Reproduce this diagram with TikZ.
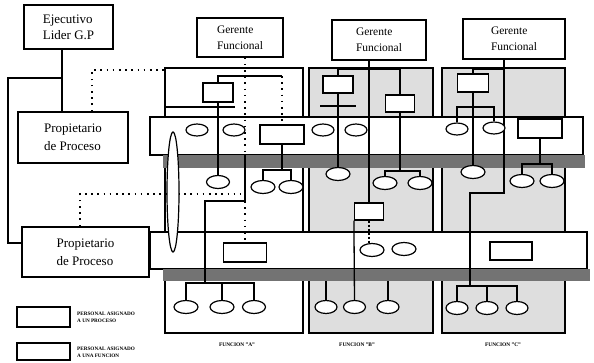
\documentclass[tikz,border=0pt]{standalone}
\usepackage{fontspec}
\setmainfont{Liberation Serif}
\usetikzlibrary{shapes.geometric,calc}
\pgfdeclarelayer{bg}
\pgfdeclarelayer{mid}
\pgfsetlayers{bg,mid,main}
\begin{document}
\begin{tikzpicture}[x=1pt,y=-1pt,
  bigbox/.style={draw,line width=1.4pt,fill=white,inner sep=0pt,align=left},
  colbox/.style={draw,line width=1.4pt,inner sep=0pt},
  bandbox/.style={draw,line width=1.4pt,fill=white,inner sep=0pt},
  shadowbox/.style={fill=black!55,inner sep=0pt},
  pers/.style={draw,ellipse,line width=1.2pt,fill=white,inner sep=0pt,minimum width=22pt,minimum height=12pt},
  prect/.style={draw,rectangle,line width=1.2pt,fill=white,inner sep=0pt},
  conn/.style={line width=1.3pt},
  dotc/.style={line width=1.5pt,dash pattern=on 1.6pt off 4.6pt},
  flabel/.style={font=\fontsize{5.4}{6}\selectfont\bfseries,inner sep=0pt},
  legtext/.style={font=\fontsize{5.2}{7}\selectfont\bfseries,inner sep=0pt,align=left,anchor=west}]
\useasboundingbox (0,0) rectangle (594,363);

% ---------- background: function columns, process bands, shadows
\begin{pgfonlayer}{bg}
\node[colbox,fill=white,minimum width=138pt,minimum height=265pt] (colA) at (234,200.5) {};
\node[colbox,fill=black!13,minimum width=124pt,minimum height=265pt] (colB) at (371,200.5) {};
\node[colbox,fill=black!13,minimum width=123pt,minimum height=265pt] (colC) at (503.5,200.5) {};
\node[bandbox,minimum width=433pt,minimum height=38pt] (band1) at (366.5,136) {};
\node[bandbox,minimum width=437pt,minimum height=37pt] (band2) at (368.5,250.5) {};
\node[shadowbox,minimum width=422pt,minimum height=13pt] (sh1) at (374,161.5) {};
\node[shadowbox,minimum width=427pt,minimum height=12pt] (sh2) at (376.5,275) {};
\end{pgfonlayer}

% ---------- hierarchy boxes
\node[bigbox,minimum width=89pt,minimum height=44pt,font=\fontsize{13}{16}\selectfont] (ejec) at (68.5,27) {Ejecutivo\\Lider G.P};
\node[bigbox,minimum width=110pt,minimum height=51pt,font=\fontsize{13}{18}\selectfont] (prop1) at (73,137.5) {Propietario\\de Proceso};
\node[bigbox,minimum width=127pt,minimum height=50pt,font=\fontsize{13}{18}\selectfont] (prop2) at (85.5,252) {Propietario\\de Proceso};
\node[bigbox,minimum width=86pt,minimum height=39pt,font=\fontsize{11.5}{16}\selectfont] (gfA) at (240,37.5) {Gerente\\Funcional};
\node[bigbox,minimum width=94pt,minimum height=40pt,font=\fontsize{11.5}{16}\selectfont] (gfB) at (379,40) {Gerente\\Funcional};
\node[bigbox,minimum width=102pt,minimum height=40pt,font=\fontsize{11.5}{16}\selectfont] (gfC) at (514,39) {Gerente\\Funcional};

% ---------- function A
\node[prect,minimum width=30pt,minimum height=19pt] (rA1) at (218,92.5) {};
\node[prect,minimum width=44pt,minimum height=19pt] (rA2) at (282,134.5) {};
\node[prect,minimum width=43pt,minimum height=19pt] (rA3) at (245,252.5) {};
\node[pers] (eA1) at (197,130) {};
\node[pers] (eA2) at (234,130) {};
\node[pers,minimum width=23pt,minimum height=13pt] (eA3) at (218,182) {};
\node[pers,minimum width=24pt,minimum height=13pt] (eA4) at (263,187) {};
\node[pers,minimum width=24pt,minimum height=13pt] (eA5) at (291,187) {};
\node[pers,minimum width=24pt,minimum height=13pt] (eA6) at (186,307) {};
\node[pers,minimum width=24pt,minimum height=13pt] (eA7) at (222,307) {};
\node[pers,minimum width=23pt,minimum height=13pt] (eA8) at (254,307) {};
\node[draw,ellipse,line width=1.2pt,fill=white,inner sep=0pt,minimum width=12pt,minimum height=120pt] (tall) at (173,192) {};

% ---------- function B
\node[prect,minimum width=30pt,minimum height=17pt] (rB1) at (338,84.5) {};
\node[prect,minimum width=29pt,minimum height=17pt] (rB2) at (400,103.5) {};
\node[prect,minimum width=29pt,minimum height=17pt] (rB3) at (369,211.5) {};
\node[pers] (eB1) at (323,130) {};
\node[pers] (eB2) at (356,130) {};
\node[pers,minimum width=24pt,minimum height=13pt] (eB3) at (338,174) {};
\node[pers,minimum width=24pt,minimum height=13pt] (eB4) at (385,183) {};
\node[pers,minimum width=24pt,minimum height=13pt] (eB5) at (420,183) {};
\node[pers,minimum width=24pt,minimum height=13pt] (eB6) at (372,250) {};
\node[pers,minimum width=24pt,minimum height=13pt] (eB7) at (404,249) {};
\node[pers,minimum width=22pt,minimum height=13pt] (eB9) at (326,307) {};
\node[pers,minimum width=22pt,minimum height=13pt] (eB8) at (354.5,307) {};
\node[pers,minimum width=22pt,minimum height=13pt] (eB10) at (388,307) {};

% ---------- function C
\node[prect,minimum width=31pt,minimum height=18pt] (rC1) at (473,83) {};
\node[prect,minimum width=44pt,minimum height=19pt] (rC2) at (540,128.5) {};
\node[prect,minimum width=42pt,minimum height=18pt] (rC3) at (511,251) {};
\node[pers] (eC1) at (457,129) {};
\node[pers] (eC2) at (494,128) {};
\node[pers,minimum width=24pt,minimum height=13pt] (eC3) at (473,172) {};
\node[pers,minimum width=24pt,minimum height=13pt] (eC4) at (522,181) {};
\node[pers,minimum width=24pt,minimum height=13pt] (eC5) at (552,181) {};
\node[pers,minimum width=22pt,minimum height=13pt] (eC6) at (457,308) {};
\node[pers,minimum width=22pt,minimum height=13pt] (eC7) at (487,308) {};
\node[pers,minimum width=22pt,minimum height=13pt] (eC8) at (517,308) {};

% ---------- labels and legend
\node[flabel] (fA) at (237,345) {FUNCION "A"};
\node[flabel] (fB) at (357,345) {FUNCION "B"};
\node[flabel] (fC) at (503,345) {FUNCION "C"};
\node[prect,minimum width=53pt,minimum height=20pt] (leg1) at (43.5,317) {};
\node[prect,minimum width=53pt,minimum height=17pt] (leg2) at (43.5,351.5) {};
\node[legtext] (lt1) at (77,317.5) {PERSONAL ASIGNADO\\A UN PROCESO};
\node[legtext] (lt2) at (77,352.5) {PERSONAL ASIGNADO\\A UNA FUNCION};

% ---------- connectors
\coordinate (brTop) at (62,78);
\coordinate (lftTop) at (8,78);
\coordinate (lftBot) at (8,243);
\begin{pgfonlayer}{mid}
% hierarchy
\draw[conn] ([xshift=-6.5pt]ejec.south) -- ([xshift=-11pt]prop1.north);
\draw[conn] (brTop) -- (lftTop) -- (lftBot) -- ([yshift=9pt]prop2.west);
\draw[dotc] ([xshift=19pt]prop1.north) -- (92,70) -- (colA.west |- 0,70);
\draw[dotc] ([xshift=-5.5pt]prop2.north) -- (80,194) -- (240,194);
% function A
\draw[dotc] ([xshift=5pt]gfA.south) -- (245,155);
\draw[conn] (245,155) -- (245,201) -- (205,201) -- (205,283);
\draw[dotc] (245,201) -- (rA3.north);
\draw[conn] (rA1.north) -- (218,76) -- (282,76);
\draw[dotc] (282,76) -- (rA2.north);
\draw[conn] (colA.west |- 0,107) -- (235,107);
\draw[conn] (rA1.south) -- (eA3.north);
\draw[conn] (rA2.south) -- (282,170);
\draw[conn] (eA4.north) -- (263,170) -- (291,170) -- (eA5.north);
\draw[conn] (eA6.north) -- (186,283) -- (254,283) -- (eA8.north);
\draw[conn] (222,283) -- (eA7.north);
% function B
\draw[conn] ([xshift=-10pt]gfB.south) -- (rB3.north);
\draw[conn] (rB1.north) -- (338,69) -- (400,69) -- (rB2.north);
\draw[conn] (320,106) -- (356,106);
\draw[conn] (rB1.south) -- (eB3.north);
\draw[conn] (rB2.south) -- (400,171);
\draw[conn] (eB4.north) -- (385,171) -- (420,171) -- (eB5.north);
\draw[conn] (rB3.south west) -- (eB8.north);
\draw[conn,dash pattern=on 2pt off 2pt] (rB3.south) -- (rB3.south |- eB6.north);
\draw[conn] (326,281) -- (eB9.north);
\draw[conn] (388,281) -- (eB10.north);
% function C
\draw[conn] ([xshift=-10pt]gfC.south) -- (504,193) -- (470,193) -- (470,286);
\draw[conn] (rC1.north) -- (473,69) -- (504,69);
\draw[conn] (rC1.south) -- (eC3.north);
\draw[conn] (eC1.north) -- (457,107) -- (494,107) -- (eC2.north);
\draw[conn] (rC2.south) -- (540,164);
\draw[conn] (eC4.north) -- (522,164) -- (552,164) -- (eC5.north);
\draw[conn] (eC6.north) -- (457,286) -- (517,286) -- (eC8.north);
\draw[conn] (487,286) -- (eC7.north);
\end{pgfonlayer}
\end{tikzpicture}
\end{document}
